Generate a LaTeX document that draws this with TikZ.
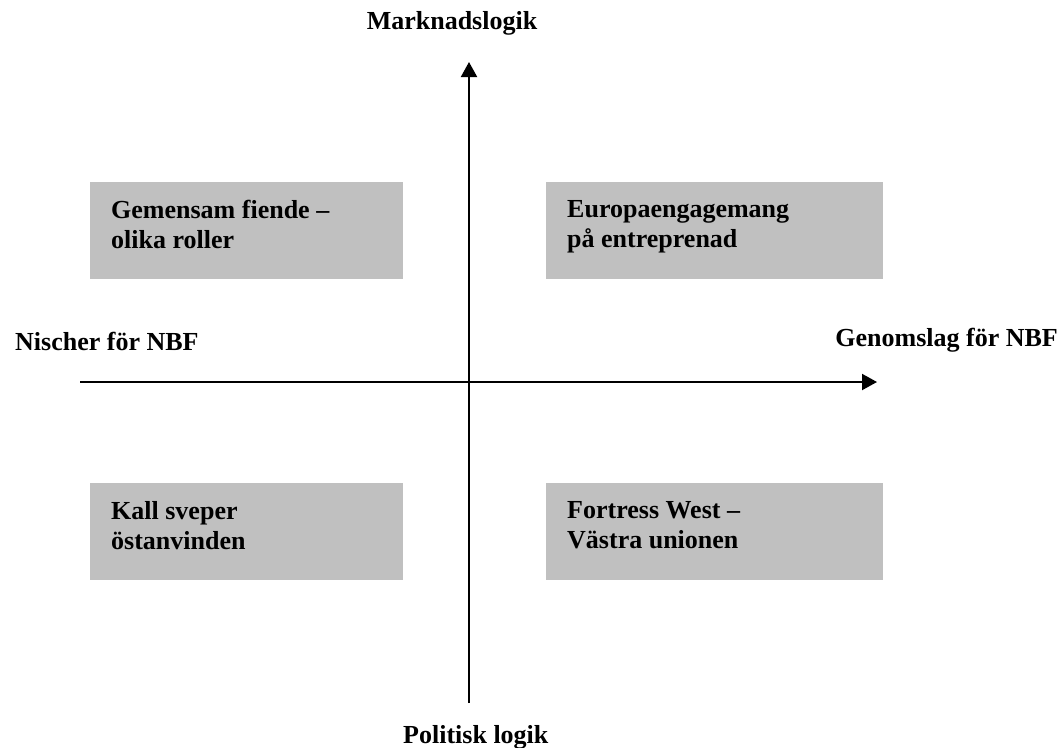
\documentclass[tikz,border=0pt]{standalone}
\usepackage{fontspec}
\setmainfont{Liberation Serif}
\usetikzlibrary{arrows.meta,positioning}
\definecolor{boxgray}{HTML}{C0C0C0}
\tikzset{
  axis/.style={line width=2pt, -{Triangle[length=15pt,width=16pt]}},
  quad/.style={fill=boxgray, inner sep=0pt, minimum height=97pt},
  quadtext/.style={font=\fontsize{26}{30}\selectfont\bfseries, align=left, inner sep=0pt},
  axtext/.style={font=\fontsize{26}{30}\selectfont\bfseries, inner sep=0pt}
}
\begin{document}
\begin{tikzpicture}[x=1pt, y=-1pt]
  \useasboundingbox (0,0) rectangle (1062,747);

  % axes
  \coordinate (W) at (80,382);
  \coordinate (E) at (877,382);
  \coordinate (S) at (469,703);
  \coordinate (N) at (469,62);

  % quadrant boxes
  \node[quad, minimum width=313pt, anchor=north west] (nw) at (90,182) {};
  \node[quad, minimum width=337pt, anchor=north west] (ne) at (546,182) {};
  \node[quad, minimum width=313pt, anchor=north west] (sw) at (90,483) {};
  \node[quad, minimum width=337pt, anchor=north west] (se) at (546,483) {};

  \node[quadtext, below right=18pt and 21pt of nw.north west] (nwtext) {Gemensam fiende --\\olika roller};
  \node[quadtext, below right=18pt and 21pt of ne.north west] (netext) {Europaengagemang\\på entreprenad};
  \node[quadtext, below right=18pt and 21pt of sw.north west] (swtext) {Kall sveper\\östanvinden};
  \node[quadtext, below right=18pt and 21pt of se.north west] (setext) {Fortress West --\\Västra unionen};

  \draw[axis] (W) -- (E);
  \draw[axis] (S) -- (N);

  % axis labels
  \node[axtext, anchor=base] (top) at (452,29) {Marknadslogik};
  \node[axtext, anchor=base west] (left) at (15,350) {Nischer för NBF};
  \node[axtext, anchor=base east] (right) at (1058,346) {Genomslag för NBF};
  \node[axtext, anchor=base west] (bottom) at (403,743) {Politisk logik};
\end{tikzpicture}
\end{document}
